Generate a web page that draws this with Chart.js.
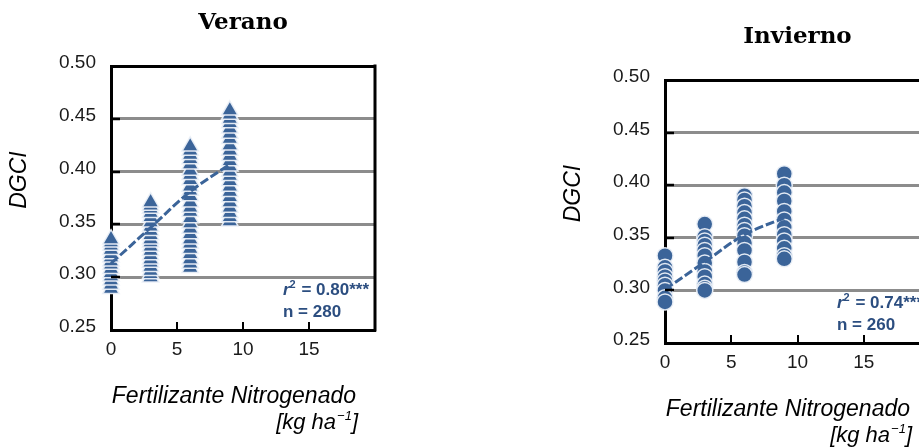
<!DOCTYPE html>
<html>
<head>
<meta charset="utf-8">
<script src="https://cdn.jsdelivr.net/npm/chart.js@4.4.1/dist/chart.umd.min.js"></script>
<style>
  html, body { margin: 0; padding: 0; background: #fff; overflow: hidden; width: 919px; height: 448px; }
  #wrapVerano { position: absolute; left: 0; top: 0; width: 460px; height: 448px; }
  #wrapInvierno { position: absolute; left: 460px; top: 0; width: 520px; height: 448px; }
</style>
</head>
<body>
<div id="wrapVerano"><canvas id="verano" width="460" height="448"></canvas></div>
<div id="wrapInvierno"><canvas id="invierno" width="520" height="448"></canvas></div>
<script>
// Nitrogen rates (kg ha-1) at which DGCI was measured
const nitrogenRates = [0, 3, 6, 9];
const xTickLabels = [0, 5, 10, 15];
const yTickLabels = [0.25, 0.30, 0.35, 0.40, 0.45, 0.50];

// Summer (Verano) DGCI readings per nitrogen rate
const veranoN0 = [0.289, 0.293, 0.297, 0.301, 0.304, 0.308, 0.312, 0.315, 0.319, 0.322, 0.326, 0.330, 0.333, 0.336];
const veranoN3 = [0.300, 0.303, 0.306, 0.310, 0.314, 0.317, 0.321, 0.325, 0.329, 0.333, 0.336, 0.340, 0.344, 0.348, 0.352, 0.357, 0.361, 0.365, 0.368, 0.371];
const veranoN6 = [0.309, 0.313, 0.317, 0.322, 0.327, 0.332, 0.336, 0.341, 0.346, 0.351, 0.356, 0.362, 0.366, 0.371, 0.377, 0.382, 0.386, 0.392, 0.397, 0.401, 0.407, 0.412, 0.416, 0.420, 0.424];
const veranoN9 = [0.353, 0.357, 0.361, 0.366, 0.371, 0.376, 0.381, 0.386, 0.391, 0.396, 0.400, 0.405, 0.410, 0.415, 0.420, 0.425, 0.431, 0.436, 0.441, 0.446, 0.450, 0.454, 0.458];
const veranoTrend = [0.313, 0.347, 0.381, 0.407];
const veranoStats = { r2: '0.80***', n: '280' };

// Winter (Invierno) DGCI readings per nitrogen rate
const inviernoN0 = [0.333, 0.322, 0.318, 0.313, 0.309, 0.305, 0.300, 0.293, 0.289];
const inviernoN3 = [0.363, 0.351, 0.347, 0.343, 0.338, 0.333, 0.326, 0.318, 0.313, 0.306, 0.302, 0.300];
const inviernoN6 = [0.390, 0.386, 0.380, 0.374, 0.368, 0.362, 0.357, 0.352, 0.345, 0.338, 0.327, 0.317, 0.315];
const inviernoN9 = [0.411, 0.400, 0.393, 0.385, 0.375, 0.367, 0.360, 0.353, 0.347, 0.340, 0.333, 0.330];
const inviernoTrend = [0.301, 0.327, 0.353, 0.369];
const inviernoStats = { r2: '0.74***', n: '260' };

const MARK_BLUE = '#3b6499';
const STAT_BLUE = '#2c4e80';
const SANS = '"Liberation Sans", Arial, sans-serif';

Chart.defaults.font.family = SANS;
Chart.defaults.color = '#1a1a1a';

function near(a, b) { return Math.abs(a - b) < 1e-6; }

// Titles, axis captions, statistics, frame and inner tick marks
const panelDecor = {
  id: 'panelDecor',
  afterDatasetsDraw(chart, args, opts) {
    const { ctx, chartArea: a, scales } = chart;
    ctx.save();
    ctx.strokeStyle = '#000';
    // right frame edge
    ctx.lineWidth = 3;
    ctx.beginPath();
    ctx.moveTo(a.right, a.top - 1.5);
    ctx.lineTo(a.right, a.bottom + 1.5);
    ctx.stroke();
    // inner ticks on the value axis
    ctx.lineWidth = 2.5;
    yTickLabels.forEach(v => {
      if (v <= 0.25 + 1e-9 || v >= 0.5 - 1e-9) return;
      const y = Math.round(scales.y.getPixelForValue(v));
      ctx.beginPath();
      ctx.moveTo(a.left, y);
      ctx.lineTo(a.left + 9, y);
      ctx.stroke();
    });
    // inner ticks on the rate axis
    ctx.lineWidth = 2;
    xTickLabels.forEach(v => {
      if (v === 0) return;
      const x = Math.round(scales.x.getPixelForValue(v));
      ctx.beginPath();
      ctx.moveTo(x, a.bottom);
      ctx.lineTo(x, a.bottom - 8);
      ctx.stroke();
    });
    ctx.restore();
  },
  afterDraw(chart, args, opts) {
    const { ctx, chartArea: a } = chart;
    ctx.save();
    ctx.fillStyle = '#000';
    ctx.textBaseline = 'middle';

    // panel title
    ctx.font = 'bold 23px "DejaVu Serif", serif';
    ctx.textAlign = 'center';
    ctx.fillText(opts.title, (a.left + a.right) / 2, a.top - 43);

    // value axis caption
    ctx.save();
    ctx.translate(a.left - 91, (a.top + a.bottom) / 2 - 18);
    ctx.rotate(-Math.PI / 2);
    ctx.font = 'italic 23px ' + SANS;
    ctx.textAlign = 'center';
    ctx.fillText('DGCI', 0, 0);
    ctx.restore();

    // rate axis caption
    ctx.font = 'italic 23px ' + SANS;
    ctx.textAlign = 'right';
    ctx.fillText('Fertilizante Nitrogenado', a.left + 245, a.bottom + 67);
    const unitRight = a.left + 247;
    const uy = a.bottom + 93;
    const p1 = '[kg ha', sup = '\u22121', p3 = ']';
    ctx.font = 'italic 22px ' + SANS;
    const w1 = ctx.measureText(p1).width, w3 = ctx.measureText(p3).width;
    ctx.font = 'italic 13px ' + SANS;
    const w2 = ctx.measureText(sup).width;
    let ux = unitRight - (w1 + w2 + w3 + 1);
    ctx.textAlign = 'left';
    ctx.font = 'italic 22px ' + SANS;
    ctx.fillText(p1, ux, uy);
    ctx.font = 'italic 13px ' + SANS;
    ctx.fillText(sup, ux + w1 + 1, uy - 7);
    ctx.font = 'italic 22px ' + SANS;
    ctx.fillText(p3, ux + w1 + w2 + 1, uy);

    // regression statistics
    ctx.fillStyle = STAT_BLUE;
    let sx = a.left + 172;
    const sy = a.bottom - 40;
    ctx.font = 'italic bold 17px ' + SANS;
    ctx.fillText('r', sx, sy);
    sx += ctx.measureText('r').width;
    ctx.font = 'bold 11px ' + SANS;
    ctx.fillText('2', sx, sy - 5);
    sx += ctx.measureText('2').width + 1;
    ctx.font = 'bold 17px ' + SANS;
    ctx.fillText(' = ' + opts.stats.r2, sx, sy);
    ctx.fillText('n = ' + opts.stats.n, a.left + 172, a.bottom - 18);
    ctx.restore();
  }
};

function buildPanel(canvasId, groups, trend, marker, radius, title, stats, geom) {
  const points = [];
  nitrogenRates.forEach((rate, i) => groups[i].forEach(v => points.push({ x: rate, y: v })));
  return new Chart(document.getElementById(canvasId), {
    type: 'scatter',
    data: {
      datasets: [
        {
          label: 'tendencia',
          data: nitrogenRates.map((rate, i) => ({ x: rate, y: trend[i] })),
          showLine: true,
          borderColor: MARK_BLUE,
          borderWidth: 3,
          borderDash: [9, 3],
          pointRadius: 0,
          tension: 0.35,
          clip: false,
          order: 0
        },
        {
          label: 'DGCI',
          data: points,
          pointStyle: marker,
          pointRadius: radius,
          pointHoverRadius: radius,
          backgroundColor: MARK_BLUE,
          borderColor: 'rgba(235,240,248,0.95)',
          borderWidth: 1.5,
          clip: false,
          order: 1
        }
      ]
    },
    options: {
      responsive: false,
      devicePixelRatio: 1,
      animation: false,
      events: [],
      layout: { padding: { left: 0, top: geom.top, right: geom.right, bottom: 0 } },
      plugins: {
        legend: { display: false },
        tooltip: { enabled: false },
        title: { display: false },
        panelDecor: { title: title, stats: stats }
      },
      scales: {
        x: {
          type: 'linear',
          min: 0,
          max: 20,
          afterFit: s => { s.height = geom.xHeight; },
          ticks: {
            stepSize: 5,
            padding: 8,
            maxRotation: 0,
            font: { size: 19 },
            color: '#1a1a1a',
            callback: v => (xTickLabels.includes(v) ? String(v) : '')
          },
          grid: { display: false, drawTicks: false },
          border: { display: true, color: '#000', width: 3 }
        },
        y: {
          type: 'linear',
          min: 0.25,
          max: 0.50,
          afterFit: s => { s.width = geom.yWidth; },
          afterBuildTicks: s => { s.ticks = yTickLabels.map(v => ({ value: v })); },
          ticks: {
            padding: 15,
            labelOffset: -3,
            font: { size: 19 },
            color: '#1a1a1a',
            callback: v => Number(v).toFixed(2)
          },
          grid: {
            drawTicks: false,
            lineWidth: 3,
            color: c => {
              const v = c.tick ? c.tick.value : null;
              if (v === null || near(v, 0.25)) return 'rgba(0,0,0,0)';
              if (near(v, 0.5)) return '#000';
              return '#8c8c8c';
            }
          },
          border: { display: true, color: '#000', width: 3 }
        }
      }
    },
    plugins: [panelDecor]
  });
}

buildPanel('verano', [veranoN0, veranoN3, veranoN6, veranoN9], veranoTrend, 'triangle', 9.5,
  'Verano', veranoStats, { top: 66, right: 85, xHeight: 118, yWidth: 111 });

buildPanel('invierno', [inviernoN0, inviernoN3, inviernoN6, inviernoN9], inviernoTrend, 'circle', 8,
  'Invierno', inviernoStats, { top: 80, right: 50, xHeight: 105, yWidth: 205 });
</script>
</body>
</html>
